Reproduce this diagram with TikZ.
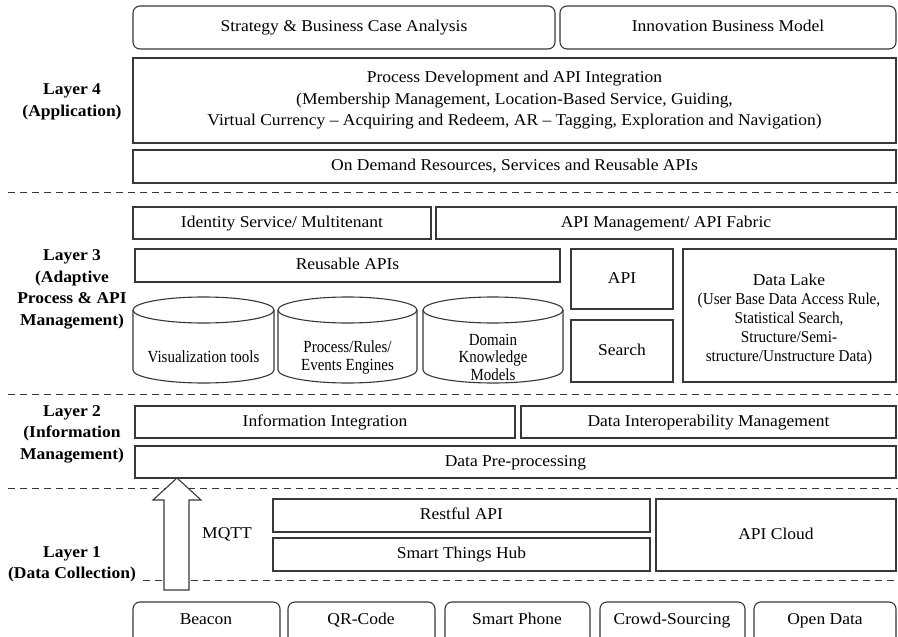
\documentclass[tikz,border=0pt]{standalone}
\usepackage{fontspec}
\setmainfont{Liberation Serif}[FakeStretch=1.06]
\newfontfamily\condserif{Liberation Serif}[FakeStretch=0.88]
\newfontfamily\lakeserif{Liberation Serif}[FakeStretch=0.92]
\begin{document}
\begin{tikzpicture}[x=1pt,y=-1pt,
  line width=1.1pt,
  every node/.style={inner sep=0pt,outer sep=0pt,align=center,font=\fontsize{16.5}{21.5}\selectfont},
  box/.style={draw=black!78},
  rbox/.style={draw=black!78,rounded corners=7pt},
  lbl/.style={text height=11.6pt,text depth=3.6pt},
  layerlabel/.style={font=\fontsize{16.5}{21.5}\selectfont\bfseries},
  cyltext/.style={anchor=base,font=\condserif\fontsize{17}{17.5}\selectfont},
  laketext/.style={anchor=base,font=\lakeserif\fontsize{16.5}{19}\selectfont},
  sep/.style={draw=black!78,line width=1pt,dash pattern=on 7pt off 5pt}]
\useasboundingbox (0,0) rectangle (898,637);
% box helper: style, name, x1, y1, x2, y2, text
\newcommand\pbox[7]{\node[#1,minimum width={(#5-#3)*1pt},minimum height={(#6-#4)*1pt}] (#2) at ({(#3+#5)/2},{(#4+#6)/2}) {#7};}
% cylinder helper: name, x1, x2, baseline of last line, text
\newcommand\dbcyl[5]{%
  \draw[black!78,fill=white] (#2,310) -- (#2,370) arc[start angle=180,end angle=0,x radius={(#3-#2)/2},y radius=13] -- (#3,310);
  \draw[black!78] ({(#2+#3)/2},310) ellipse [x radius={(#3-#2)/2},y radius=13];
  \node[cyltext] (#1) at ({(#2+#3)/2},#4) {#5};}

% ---------- separators ----------
\draw[sep] (8,192) -- (898,192);
\draw[sep] (8,394) -- (898,394);
\draw[sep] (8,488) -- (898,488);
\draw[sep] (143,580) -- (898,580);

% ---------- Layer 4 ----------
\node[layerlabel] (l4) at (72,102) {Layer 4\\(Application)};
\pbox{rbox,lbl}{strat}{133}{6}{555}{49}{Strategy \& Business Case Analysis}
\pbox{rbox,lbl}{innov}{560}{6}{896}{49}{Innovation Business Model}
\pbox{box}{procdev}{133}{58}{896}{143}{Process Development and API Integration\\(Membership Management, Location-Based Service, Guiding,\\Virtual Currency -- Acquiring and Redeem, AR -- Tagging, Exploration and Navigation)}
\pbox{box,lbl}{ondemand}{133}{150}{896}{183}{On Demand Resources, Services and Reusable APIs}

% ---------- Layer 3 ----------
\node[layerlabel] (l3) at (72,289.5) {Layer 3\\(Adaptive\\Process \& API\\Management)};
\pbox{box,lbl}{ident}{133}{207}{431}{239}{Identity Service/ Multitenant}
\pbox{box,lbl}{apimgmt}{436}{207}{896}{239}{API Management/ API Fabric}
\pbox{box,lbl}{reuse}{135}{249}{560}{282}{Reusable APIs}
\pbox{box,lbl}{api}{571}{249}{673}{309}{API}
\pbox{box,lbl}{search}{571}{320}{673}{382}{Search}
\pbox{box}{lake}{683}{249}{896}{382}{}
\node[lbl] (laketitle) at (789,281) {Data Lake};
\node[laketext] (lakesub) at (789,361) {(User Base Data Access Rule,\\Statistical Search,\\Structure/Semi-\\structure/Unstructure Data)};
\dbcyl{vis}{133}{274}{362}{Visualization tools}
\dbcyl{engines}{278}{417}{370}{Process/Rules/\\Events Engines}
\dbcyl{domain}{423}{563}{380}{Domain\\Knowledge\\Models}

% ---------- Layer 2 ----------
\node[layerlabel] (l2) at (72,434) {Layer 2\\(Information\\Management)};
\pbox{box,lbl}{infoint}{135}{406}{515}{438}{Information Integration}
\pbox{box,lbl}{interop}{521}{406}{896}{438}{Data Interoperability Management}
\pbox{box,lbl}{prep}{135}{446}{896}{478}{Data Pre-processing}

% ---------- Layer 1 ----------
\node[layerlabel] (l1) at (72,564.5) {Layer 1\\(Data Collection)};
\node[lbl] (mqtt) at (227,534) {MQTT};
\pbox{box,lbl}{rest}{273}{499}{650}{532}{Restful API}
\pbox{box,lbl}{hub}{273}{538}{650}{571}{Smart Things Hub}
\pbox{box,lbl}{cloud}{656}{499}{896}{571}{API Cloud}

% hollow upward arrow into the pre-processing layer
\coordinate (tip) at (prep.south -| 177,0);
\draw[black!78,fill=white,line join=miter]
  (tip) -- (201,500) -- (189,500) -- (189,590) -- (164,590) -- (164,500) -- (153,500) -- cycle;

% ---------- data sources ----------
\pbox{rbox}{beacon}{133}{602}{280}{650}{}
\pbox{rbox}{qr}{288}{602}{435}{650}{}
\pbox{rbox}{phone}{445}{602}{590}{650}{}
\pbox{rbox}{crowd}{600}{602}{745}{650}{}
\pbox{rbox}{open}{754}{602}{896}{650}{}
\node[lbl] at (206,620) {Beacon};
\node[lbl] at (361,620) {QR-Code};
\node[lbl] at (517,620) {Smart Phone};
\node[lbl] at (672,620) {Crowd-Sourcing};
\node[lbl] at (825,620) {Open Data};
\end{tikzpicture}
\end{document}
